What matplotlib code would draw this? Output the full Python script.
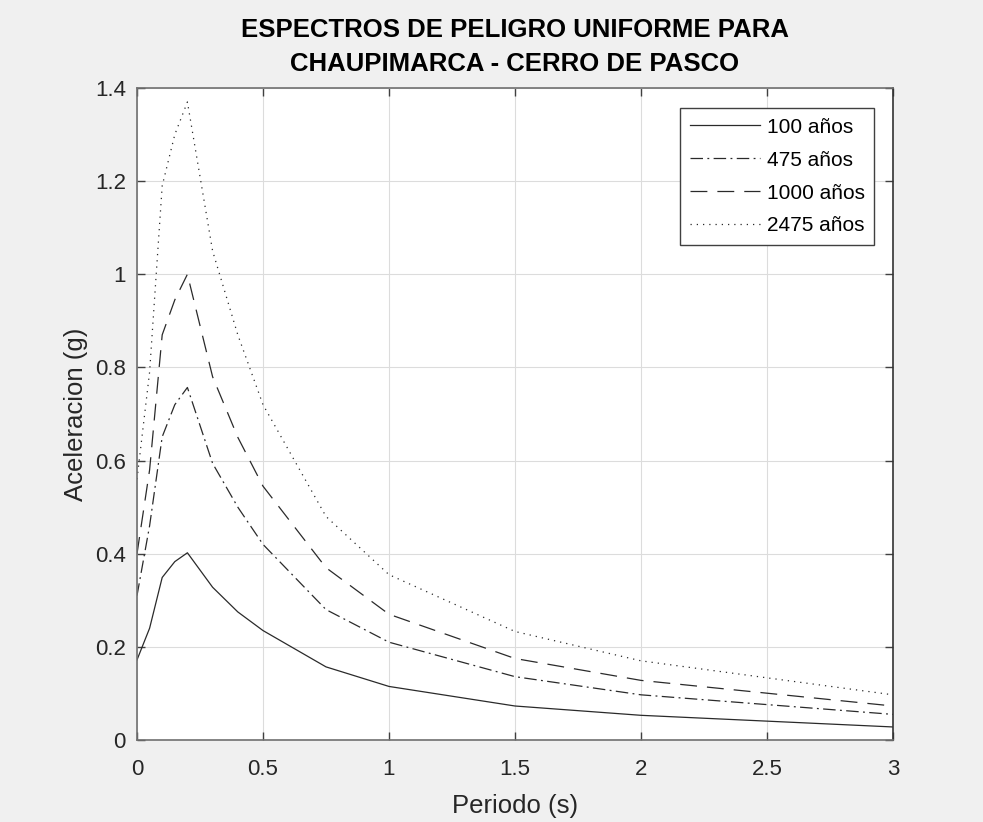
import matplotlib
matplotlib.use("Agg")
import matplotlib.pyplot as plt

periods = [0, 0.05, 0.1, 0.15, 0.2, 0.3, 0.4, 0.5, 0.75, 1.0, 1.5, 2.0, 3.0]
sa_100 = [0.172, 0.24, 0.349, 0.383, 0.402, 0.328, 0.275, 0.235, 0.157, 0.115, 0.073, 0.053, 0.028]
sa_475 = [0.31, 0.46, 0.651, 0.72, 0.757, 0.594, 0.50, 0.42, 0.28, 0.21, 0.136, 0.097, 0.055]
sa_1000 = [0.40, 0.58, 0.87, 0.945, 1.0, 0.78, 0.65, 0.545, 0.37, 0.27, 0.175, 0.128, 0.073]
sa_2475 = [0.56, 0.79, 1.19, 1.30, 1.37, 1.05, 0.87, 0.72, 0.48, 0.355, 0.233, 0.17, 0.097]
labels = ["100 años", "475 años", "1000 años", "2475 años"]
xticks = [0, 0.5, 1, 1.5, 2, 2.5, 3]
yticks = [0, 0.2, 0.4, 0.6, 0.8, 1.0, 1.2, 1.4]

plt.rcParams['font.family'] = ['Liberation Sans', 'DejaVu Sans']

fig = plt.figure(figsize=(9.83, 8.22), dpi=100, facecolor='#f0f0f0')
ax = fig.add_axes([137/983, 1-740/822, (893-137)/983, (740-88)/822])
ax.set_facecolor('white')

lc = '#2a2a2a'
ax.plot(periods, sa_100, color=lc, lw=0.9, linestyle='-', label=labels[0])
ax.plot(periods, sa_475, color=lc, lw=0.9, linestyle=(0, (10, 3.5, 1.5, 3.5)), label=labels[1])
ax.plot(periods, sa_1000, color=lc, lw=0.9, linestyle=(0, (13.5, 8)), label=labels[2])
ax.plot(periods, sa_2475, color=lc, lw=0.9, linestyle=(0, (1, 4)), label=labels[3])

ax.set_xlim(0, 3)
ax.set_ylim(0, 1.4)
ax.set_xticks(xticks)
ax.set_xticklabels(['0', '0.5', '1', '1.5', '2', '2.5', '3'])
ax.set_yticks(yticks)
ax.set_yticklabels(['0', '0.2', '0.4', '0.6', '0.8', '1', '1.2', '1.4'])
ax.grid(True, color='#dcdcdc', lw=0.8)
ax.set_axisbelow(True)
ax.tick_params(direction='in', length=6, width=1, colors='#404040', labelcolor='#262626', labelsize=16, top=True, right=True)
ax.tick_params(axis='x', pad=14)
ax.tick_params(axis='y', pad=8)
for s in ax.spines.values():
    s.set_color('#707070')
    s.set_linewidth(1.2)
ax.spines['right'].set_color('#333333')

ax.set_xlabel('Periodo (s)', fontsize=18.5, color='#262626', labelpad=10)
ax.set_ylabel('Aceleracion (g)', fontsize=18.5, color='#262626', labelpad=5)
ax.set_title('ESPECTROS DE PELIGRO UNIFORME PARA\nCHAUPIMARCA - CERRO DE PASCO', fontsize=18.5, fontweight='bold',
             color='black', linespacing=1.55, pad=12)

leg = ax.legend(loc='upper right', bbox_to_anchor=(0.975, 0.969), fontsize=15, frameon=True, fancybox=False,
                edgecolor='#404040', framealpha=1, handlelength=3.4, handletextpad=0.3, borderpad=0.45,
                labelspacing=0.67, borderaxespad=0.0)
leg.get_frame().set_linewidth(1.0)
for t in leg.get_texts():
    t.set_color('black')

fig.savefig('out.png', dpi=100, facecolor=fig.get_facecolor())
